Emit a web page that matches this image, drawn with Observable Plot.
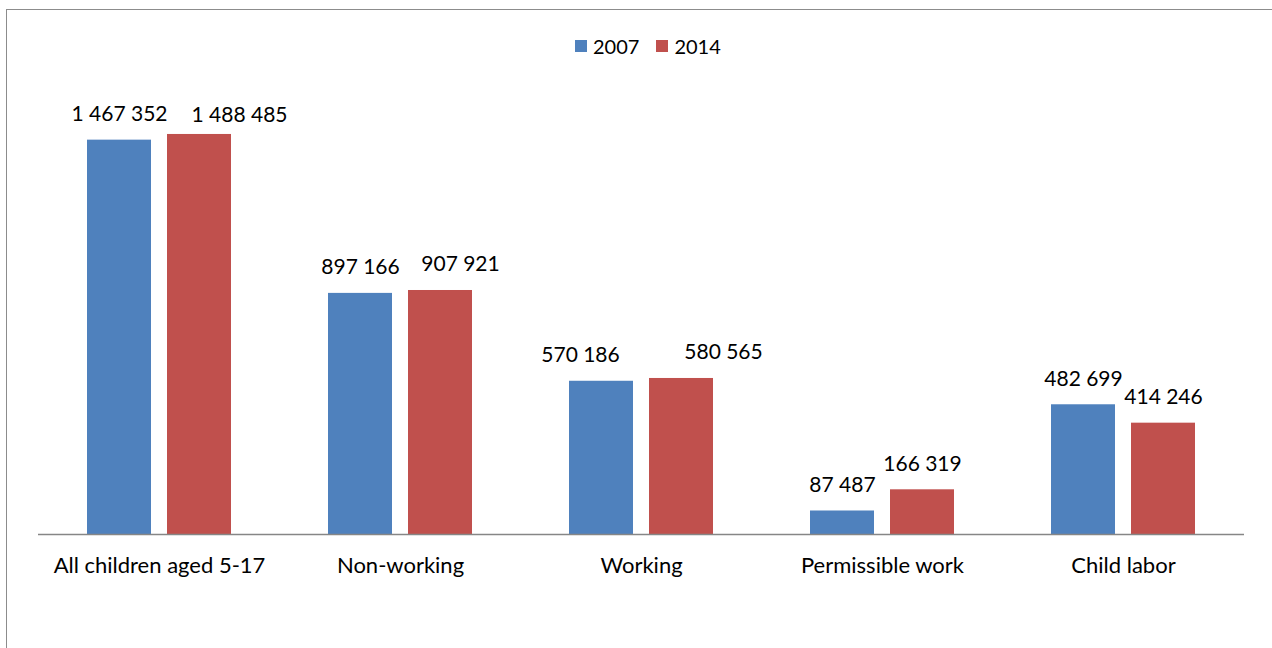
<!DOCTYPE html>
<html>
<head>
<meta charset="utf-8">
<script src="https://cdn.jsdelivr.net/npm/d3@7"></script>
<script src="https://cdn.jsdelivr.net/npm/@observablehq/plot@0.6"></script>
<style>
  html, body { margin: 0; padding: 0; background: #fff; width: 1272px; height: 648px; overflow: hidden; }
  body { position: relative; font-family: Lato, "Open Sans", sans-serif; }
  #border { position: absolute; left: 6px; top: 9px; width: 1400px; height: 800px;
            border-left: 1.5px solid #8c8c8c; border-top: 1.5px solid #8c8c8c; box-sizing: border-box; }
  #chart { position: absolute; left: 0; top: 0; }
  #legend { position: absolute; left: 575px; top: 34px; display: flex; align-items: center;
            font-size: 20px; color: #000; line-height: 24px; }
  #legend .sw { width: 12px; height: 12px; display: inline-block; margin-right: 6px; }
  #legend .item { display: flex; align-items: center; margin-right: 17px; }
</style>
</head>
<body>
<div id="border"></div>
<div id="chart"></div>
<div id="legend"></div>
<script>
// ---- data ----
const categories = ["All children aged 5-17", "Non-working", "Working", "Permissible work", "Child labor"];
const years = ["2007", "2014"];
const values2007 = [1467352, 897166, 570186, 87487, 482699];
const values2014 = [1488485, 907921, 580565, 166319, 414246];
const valueLabels2007 = ["1 467 352", "897 166", "570 186", "87 487", "482 699"];
const valueLabels2014 = ["1 488 485", "907 921", "580 565", "166 319", "414 246"];

// ---- styles ----
const colors = ["#4F81BD", "#C0504D"];
const fontFamily = "Lato, 'Open Sans', sans-serif";
// label nudges (pixels), as placed in the original chart
const nudge2007 = [[0, -26], [0, -26], [-21, -26], [0, -26], [0, -26]];
const nudge2014 = [[40, -19], [20, -26], [42, -26], [0, -26], [0, -26]];

const rows2007 = categories.map((c, i) => ({category: c, value: values2007[i], label: valueLabels2007[i]}));
const rows2014 = categories.map((c, i) => ({category: c, value: values2014[i], label: valueLabels2014[i]}));

const labelMarks = [];
rows2007.forEach((r, i) => labelMarks.push(Plot.text([r], {
  x: "category", y: "value", text: "label", dx: -40 + nudge2007[i][0], dy: nudge2007[i][1],
  fontSize: 21, fontFamily, fill: "#000", lineAnchor: "middle"
})));
rows2014.forEach((r, i) => labelMarks.push(Plot.text([r], {
  x: "category", y: "value", text: "label", dx: 40 + nudge2014[i][0], dy: nudge2014[i][1],
  fontSize: 21, fontFamily, fill: "#000", lineAnchor: "middle"
})));

const plot = Plot.plot({
  width: 1272,
  height: 648,
  marginLeft: 38,
  marginRight: 28,
  marginTop: 104,
  marginBottom: 114,
  style: {background: "transparent", fontFamily},
  x: {domain: categories, paddingInner: 0.402, paddingOuter: 0.201, label: null},
  y: {domain: [0, 1600000], axis: null},
  marks: [
    Plot.barY(rows2007, {x: "category", y: "value", fill: colors[0], insetRight: 80, insetLeft: 0}),
    Plot.barY(rows2014, {x: "category", y: "value", fill: colors[1], insetLeft: 80, insetRight: 0}),
    Plot.ruleY([0], {stroke: "#868686", strokeWidth: 1.5}),
    Plot.axisX({tickSize: 0, tickPadding: 23, fontSize: 22, fontFamily, label: null, fill: "#000"}),
    ...labelMarks
  ]
});
document.getElementById("chart").appendChild(plot);

const legend = document.getElementById("legend");
years.forEach((y, i) => {
  const item = document.createElement("div");
  item.className = "item";
  const sw = document.createElement("span");
  sw.className = "sw";
  sw.style.background = colors[i];
  item.appendChild(sw);
  const t = document.createElement("span");
  t.textContent = y;
  item.appendChild(t);
  legend.appendChild(item);
});
</script>
</body>
</html>
